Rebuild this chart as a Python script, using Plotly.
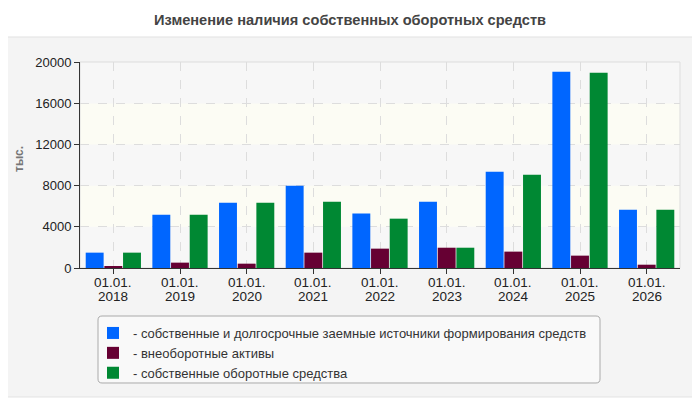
"""Изменение наличия собственных оборотных средств — grouped bars."""

import plotly.graph_objects as go

# --- data -------------------------------------------------------------------
years = ["2018", "2019", "2020", "2021", "2022", "2023", "2024", "2025", "2026"]
date_prefix = "01.01."
own_and_longterm = [1490, 5180, 6340, 7990, 5280, 6440, 9350, 19060, 5660]
noncurrent_assets = [130, 520, 420, 1490, 1880, 1970, 1590, 1200, 320]
own_working_capital = [1490, 5180, 6340, 6440, 4790, 1970, 9060, 18960, 5660]

series_names = [
    "- собственные и долгосрочные заемные источники формирования средств",
    "- внеоборотные активы",
    "- собственные оборотные средства",
]
series_colors = ["#0066ff", "#660033", "#008833"]
y_ticks = [0, 4000, 8000, 12000, 16000, 20000]

# --- geometry (pixels of the 700x400 window) -------------------------------
# the page body keeps its default 8px margin, so the figure is drawn 8px in
OFF = 8
W, H = 700 - OFF, 400 - OFF
L, R, T, B = 80 - OFF, 20, 62 - OFF, 132
PW, PH = W - L - R, H - T - B


def px_x(x):
    return (x - OFF - L) / PW


def px_y(y):
    return (H - B - (y - OFF)) / PH


def rounded_rect(x0, y0, x1, y1, r):
    """SVG path of a rounded rectangle given in window pixels, in paper units."""
    def p(x, y):
        return f"{px_x(x):.5f},{px_y(y):.5f}"
    return (f"M {p(x0 + r, y0)} L {p(x1 - r, y0)} Q {p(x1, y0)} {p(x1, y0 + r)} "
            f"L {p(x1, y1 - r)} Q {p(x1, y1)} {p(x1 - r, y1)} "
            f"L {p(x0 + r, y1)} Q {p(x0, y1)} {p(x0, y1 - r)} "
            f"L {p(x0, y0 + r)} Q {p(x0, y0)} {p(x0 + r, y0)} Z")


fig = go.Figure()
for name, vals, color in zip(series_names,
                             [own_and_longterm, noncurrent_assets, own_working_capital],
                             series_colors):
    fig.add_trace(go.Bar(x=years, y=vals, name=name, marker_color=color,
                         marker_line_width=0))

shapes = [
    # outer grey panel
    dict(type="path", xref="paper", yref="paper", layer="below",
         path=rounded_rect(2, 37, 697, 397, 5),
         fillcolor="#f4f4f4", line=dict(color="#e2e2e2", width=1)),
    # legend box
    dict(type="path", xref="paper", yref="paper", layer="below",
         path=rounded_rect(98, 316, 600, 383, 4),
         fillcolor="#f9f9f9", line=dict(color="#aaaaaa", width=1)),
]
# alternating background bands
band_colors = ["#f7f7f7", "#fcfcf4"]
for i in range(len(y_ticks) - 1):
    shapes.append(dict(type="rect", xref="paper", yref="y", layer="below",
                       x0=0, x1=1, y0=y_ticks[i], y1=y_ticks[i + 1],
                       fillcolor=band_colors[i % 2], line_width=0))
# light frame on top / right
shapes.append(dict(type="rect", xref="paper", yref="paper", layer="below",
                   x0=0, x1=1, y0=0, y1=1, line=dict(color="#dddddd", width=1)))

# two-line date labels under each group, tighter than plotly's <br> spacing
tick_font = dict(size=13.5, color="#222222")
annotations = [dict(text="<b>тыс.</b>", xref="paper", yref="paper",
                    x=px_x(19), y=px_y(159), xanchor="center", yanchor="middle",
                    textangle=-90, showarrow=False,
                    font=dict(size=12, color="#777777"))]
for idx, yr in enumerate(years):  # numeric x on a category axis = category index
    annotations.append(dict(text=date_prefix, x=idx, xref="x", yref="paper", y=0,
                            yanchor="middle", yshift=-(282 - 268), showarrow=False,
                            font=tick_font))
    annotations.append(dict(text=yr, x=idx, xref="x", yref="paper", y=0,
                            yanchor="middle", yshift=-(296 - 268), showarrow=False,
                            font=tick_font))

fig.update_layout(
    width=W, height=H,
    margin=dict(l=L, r=R, t=T, b=B),
    paper_bgcolor="white",
    plot_bgcolor="rgba(0,0,0,0)",
    font=dict(family="Liberation Sans, Arial, sans-serif", size=13, color="#222222"),
    title=dict(text="<b>Изменение наличия собственных оборотных средств</b>",
               x=(350 - OFF) / W, xref="container", xanchor="center",
               y=1 - (20 - OFF) / H, yanchor="middle",
               font=dict(size=14.6, color="#444444")),
    barmode="group", bargap=0.16, bargroupgap=0.04,
    showlegend=True,
    legend=dict(x=px_x(93), y=px_y(318), xanchor="left", yanchor="top",
                bgcolor="rgba(0,0,0,0)", borderwidth=0, itemwidth=30,
                tracegroupgap=0, font=dict(size=13, color="#333333")),
    shapes=shapes,
    annotations=annotations,
)
fig.update_xaxes(type="category", range=[-0.5, len(years) - 0.5], showline=True,
                 linecolor="#333333", ticks="outside", ticklen=5, tickcolor="#333333",
                 showgrid=True, gridcolor="#dddddd", griddash="dash",
                 showticklabels=False)
fig.update_yaxes(range=[0, 20000], tickvals=y_ticks, tickformat="d", showline=True,
                 linecolor="#333333", ticks="outside", ticklen=5, tickcolor="#333333",
                 showgrid=True, gridcolor="#dddddd", griddash="dash", zeroline=False,
                 tickfont=dict(size=13, color="#222222"))

fig.write_html("out.html")
